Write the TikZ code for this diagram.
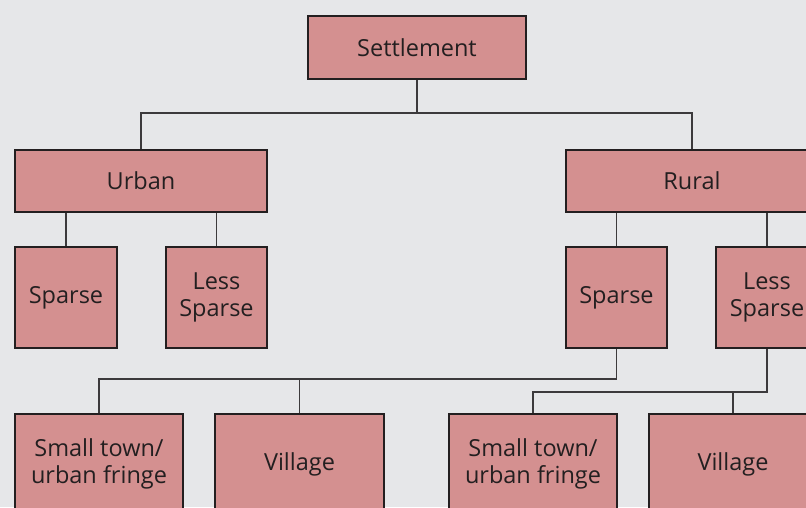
\documentclass[tikz,border=0pt]{standalone}
\usepackage{fontspec}
\setmainfont{Open Sans}
\definecolor{bgc}{RGB}{230,231,233}
\definecolor{boxc}{RGB}{212,144,144}
\definecolor{inkc}{RGB}{35,31,32}
\definecolor{linec}{RGB}{60,58,60}
\begin{document}
\begin{tikzpicture}[x=1pt,y=-1pt,
  box/.style={draw=inkc,fill=boxc,line width=2.7pt,inner sep=0pt,
    text=inkc,align=center,font=\fontsize{23.5}{27}\selectfont},
  conn/.style={draw=linec,line width=1.1pt}]
\useasboundingbox (0,0) rectangle (806,507);
\clip (0,0) rectangle (806,507);
\fill[bgc] (0,0) rectangle (806,507);
\node[box,minimum width=218pt,minimum height=63pt] (settle) at (417,47.5) {Settlement};
\node[box,minimum width=252pt,minimum height=62pt] (urban) at (141,181) {Urban};
\node[box,minimum width=252pt,minimum height=62pt] (rural) at (692,181) {Rural};
\node[box,minimum width=102pt,minimum height=101pt] (us) at (66,297.5) {Sparse};
\node[box,minimum width=101pt,minimum height=101pt] (ul) at (216.5,297.5) {Less\\Sparse};
\node[box,minimum width=101pt,minimum height=101pt] (rs) at (616.5,297.5) {Sparse};
\node[box,minimum width=102pt,minimum height=101pt] (rl) at (767,297.5) {Less\\Sparse};
\node[box,minimum width=168pt,minimum height=100pt] (st1) at (99,464) {Small town/\\urban fringe};
\node[box,minimum width=169pt,minimum height=100pt] (v1) at (299.5,464) {Village};
\node[box,minimum width=168pt,minimum height=100pt] (st2) at (533,464) {Small town/\\urban fringe};
\node[box,minimum width=168pt,minimum height=100pt] (v2) at (733,464) {Village};
\coordinate (j1) at (417,113);
\coordinate (j2) at (99,379);
\coordinate (j3) at (533,392);
\draw[conn] (settle.south) -- (j1);
\draw[conn] (urban.north) |- (j1) -| (rural.north);
\draw[conn] (urban.south -| us.north) -- (us.north);
\draw[conn] (urban.south -| ul.north) -- (ul.north);
\draw[conn] (rural.south -| rs.north) -- (rs.north);
\draw[conn] (rural.south -| rl.north) -- (rl.north);
\draw[conn] (rs.south) |- (j2) -- (st1.north);
\draw[conn] (v1.north) -- (v1.north |- j2);
\draw[conn] (rl.south) |- (j3) -- (st2.north);
\draw[conn] (v2.north) -- (v2.north |- j3);
\end{tikzpicture}
\end{document}
